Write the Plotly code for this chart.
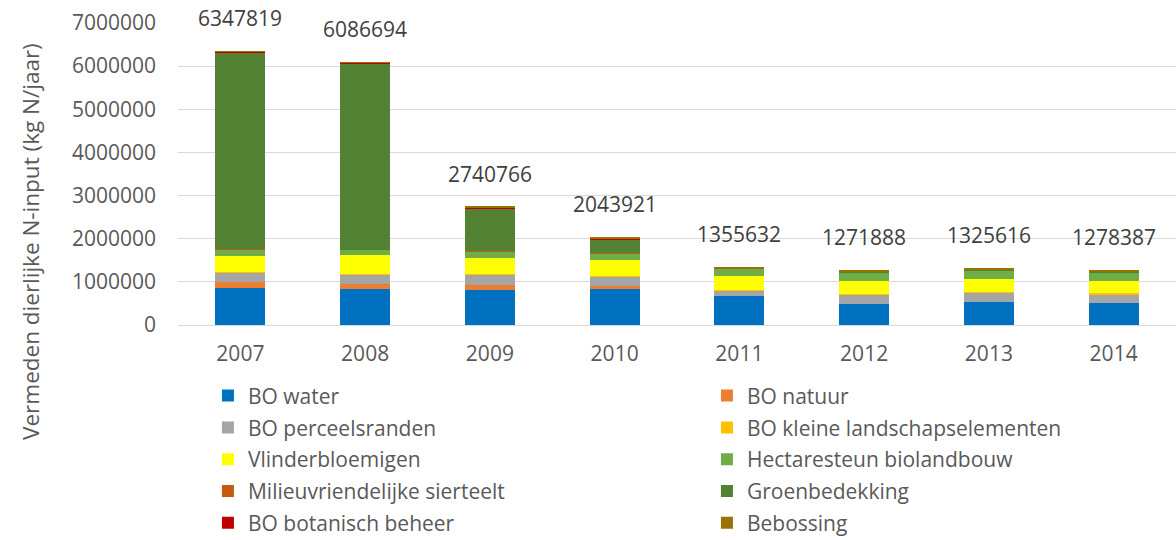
import plotly.graph_objects as go

years = ["2007", "2008", "2009", "2010", "2011", "2012", "2013", "2014"]
totals = [6347819, 6086694, 2740766, 2043921, 1355632, 1271888, 1325616, 1278387]

bo_water = [864000, 826000, 818000, 826000, 679000, 494000, 532000, 509000]
bo_natuur = [139000, 131000, 108000, 85000, 0, 0, 0, 0]
bo_perceelsranden = [208000, 224000, 239000, 208000, 116000, 208000, 216000, 208000]
bo_kleine_landschapselementen = [15000, 12000, 12000, 12000, 15000, 20000, 15000, 30000]
vlinderbloemigen = [378000, 420000, 382000, 366000, 324000, 309000, 301000, 262000]
hectaresteun_biolandbouw = [147000, 131000, 147000, 162000, 170000, 193000, 208000, 200000]
milieuvriendelijke_sierteelt = [5000, 5000, 10000, 10000, 0, 0, 0, 0]
groenbedekking = [4561800, 4312700, 980000, 324000, 5000, 5000, 5000, 10000]
bo_botanisch_beheer = [25000, 20000, 30000, 10000, 0, 0, 0, 0]
bebossing = [5000, 5000, 15000, 40000, 46000, 42000, 49000, 59000]

series_names = ["BO water", "BO natuur", "BO perceelsranden", "BO kleine landschapselementen",
                "Vlinderbloemigen", "Hectaresteun biolandbouw", "Milieuvriendelijke sierteelt",
                "Groenbedekking", "BO botanisch beheer", "Bebossing"]
series_values = [bo_water, bo_natuur, bo_perceelsranden, bo_kleine_landschapselementen,
                 vlinderbloemigen, hectaresteun_biolandbouw, milieuvriendelijke_sierteelt,
                 groenbedekking, bo_botanisch_beheer, bebossing]
colors = ["#0070C0", "#ED7D31", "#A5A5A5", "#FFC000", "#FFFF00", "#70AD47",
          "#C55A11", "#548235", "#C00000", "#997300"]

FONT = "Open Sans"
TXT = "#595959"
FS = 21

fig = go.Figure()
for k, (name, vals, col) in enumerate(zip(series_names, series_values, colors)):
    fig.add_trace(go.Bar(x=years, y=vals, name=name, legendgroup=name,
                         legend="legend" if k % 2 == 0 else "legend2",
                         marker=dict(color=col, line=dict(width=0))))

for i, tot in enumerate(totals):
    fig.add_annotation(x=i, y=tot, text=str(tot), showarrow=False, yanchor="bottom",
                       yshift=17, font=dict(family=FONT, size=FS, color="#404040"))

fig.add_annotation(xref="paper", yref="paper", x=-0.148, y=0.276, xanchor="center", yanchor="middle",
                   text="Vermeden dierlijke N-input (kg N/jaar)", textangle=-90, showarrow=False,
                   font=dict(family=FONT, size=22.5, color=TXT))

legend_common = dict(orientation="v", yanchor="top", xanchor="left", traceorder="grouped",
                     font=dict(family=FONT, size=FS, color=TXT), itemwidth=30,
                     tracegroupgap=1.5, bgcolor="rgba(0,0,0,0)")

fig.update_layout(
    width=1176, height=540,
    barmode="stack", bargap=0.6,
    plot_bgcolor="white", paper_bgcolor="white",
    margin=dict(l=178, r=0, t=23, b=214.5, autoexpand=False),
    font=dict(family=FONT, size=FS, color=TXT),
    xaxis=dict(type="category", range=[-0.5, 7.5], showgrid=False, ticks="",
               tickfont=dict(size=FS, color=TXT), showline=False, ticklabelstandoff=14),
    yaxis=dict(range=[0, 7000000], dtick=1000000, showgrid=True, gridcolor="#D9D9D9", gridwidth=1,
               zeroline=True, zerolinecolor="#D9D9D9", zerolinewidth=1, tickformat="d", ticks="",
               tickfont=dict(size=FS, color=TXT), ticklabelstandoff=21),
    legend=dict(x=0.03, y=-0.167, **legend_common),
    legend2=dict(x=0.53, y=-0.167, **legend_common),
    showlegend=True,
)

fig.write_html("out.html", config={"displayModeBar": False},
               post_script="document.body.style.margin='0px';")
